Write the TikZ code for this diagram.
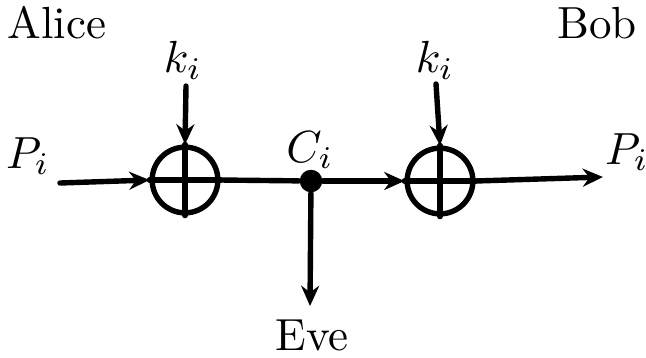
\documentclass[tikz,border=0pt]{standalone}
\usetikzlibrary{arrows.meta}
\begin{document}
\begin{tikzpicture}[x=0.2222pt,y=-0.2222pt,
  wire/.style={line width=1.2pt,line cap=round},
  arr/.style={wire,-{Stealth[length=4.5pt,width=4pt]}},
  xorc/.style={circle,draw,line width=1.2pt,minimum size=14.6pt,inner sep=0pt},
  lbl/.style={inner sep=0pt}]
\useasboundingbox (0,0) rectangle (646,357);
\node[lbl,anchor=base] (alice) at (57,38) {Alice};
\node[lbl,anchor=base] (bob) at (597,38) {Bob};
\node[lbl] (k1) at (183,60) {$k_i$};
\node[lbl] (k2) at (435,60) {$k_i$};
\node[lbl] (p1) at (28,156) {$P_i$};
\node[lbl] (p2) at (627,152) {$P_i$};
\node[lbl] (ci) at (310,150) {$C_i$};
\node[lbl,anchor=base] (eve) at (312,350) {Eve};
\node[xorc] (x1) at (185,180) {};
\node[xorc] (x2) at (440,181) {};
\node[circle,fill,minimum size=5pt,inner sep=0pt] (dot) at (311,181) {};
\coordinate (in) at (60,183);
\coordinate (k1t) at (186,86);
\coordinate (k2t) at (436,84);
\coordinate (out) at (603,177);
\coordinate (evt) at (310,306);
\draw[wire] (x1.north) -- (x1.south);
\draw[wire] (x1.west) -- (x1.east);
\draw[wire] (x2.north) -- (x2.south);
\draw[wire] (x2.west) -- (x2.east);
\draw[arr] (in) -- (x1.west);
\draw[arr] (k1t) -- (x1.north);
\draw[wire] (x1.east) -- (dot);
\draw[arr] (dot) -- (x2.west);
\draw[arr] (k2t) -- (x2.north);
\draw[arr] (x2.east) -- (out);
\draw[arr] (dot) -- (evt);
\end{tikzpicture}
\end{document}
